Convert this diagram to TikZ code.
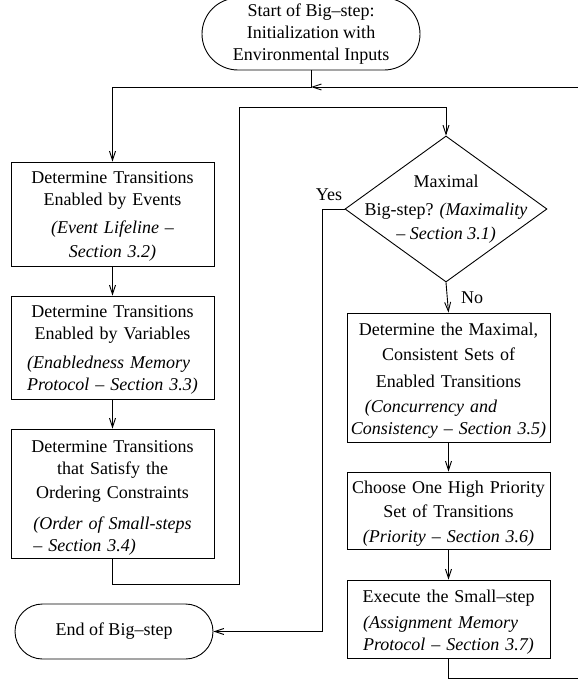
\documentclass[tikz,border=0pt]{standalone}
\usepackage{fontspec}
\setmainfont{Liberation Serif}
\usetikzlibrary{positioning,shapes.geometric,shapes.misc,arrows.meta}

\begin{document}
\begin{tikzpicture}[x=1pt,y=-1pt,line width=0.9pt,
  font=\fontsize{18}{22}\selectfont,
  box/.style={draw, rectangle, minimum width=203pt, text width=197pt, align=center, inner sep=3pt, text height=0pt},
  term/.style={draw, rounded rectangle, align=center, inner sep=0pt},
  decision/.style={draw, diamond, minimum width=202pt, minimum height=146pt, inner sep=0pt},
  arr/.style={-{Straight Barb[length=9pt,width=6pt]}}]
\useasboundingbox (0,0) rectangle (578,680);
% left column
\node [term, minimum width=218pt, minimum height=72pt] (start) at (311,34) {Start of Big--step:\\Initialization with\\Environmental Inputs};
\node [box, minimum height=104pt, text depth=62pt] (events) at (112.5,214) {Determine Transitions\\Enabled by Events\\[6pt]\textit{(Event Lifeline --}\\[2pt]\textit{Section 3.2)}};
\node [box, minimum height=103pt, text depth=61pt] (vars) at (112.5,347.5) {Determine Transitions\\Enabled by Variables\\[7pt]\begin{tabular}[t]{@{}l@{}}\itshape (Enabledness Memory\\\itshape Protocol -- Section 3.3)\end{tabular}};
\node [box, minimum height=129pt, text depth=83pt] (order) at (112.5,493.5) {Determine Transitions\\that Satisfy the\\[2pt]Ordering Constraints\\[9pt]\begin{tabular}[t]{@{}l@{}}\itshape (Order of Small-steps\\\itshape -- Section 3.4)\end{tabular}};
\node [term, minimum width=198pt, minimum height=55pt] (stop) at (114,631.5) {End of Big--step};
% right column
\node [decision] (maximal) at (446,209) {};
\node [align=center] (maxtext) at (maximal.center) {Maximal\\[6pt]Big-step? \textit{(Maximality}\\[2pt]\textit{-- Section 3.1)}};
\node [box, minimum height=129pt, text depth=85pt] (consistent) at (448.5,377.5) {Determine the Maximal,\\[3pt]Consistent Sets of\\[5pt]Enabled Transitions\\[3pt]\begin{tabular}[t]{@{}l@{}}\itshape\hspace*{14pt}(Concurrency and\\\itshape Consistency -- Section 3.5)\end{tabular}};
\node [box, minimum height=77pt, text depth=35pt] (priority) at (448.5,510.5) {Choose One High Priority\\[2pt]Set of Transitions\\[3pt]\textit{(Priority -- Section 3.6)}};
\node [box, minimum height=78pt, text depth=34pt] (execute) at (448.5,619) {Execute the Small--step\\[4pt]\begin{tabular}[t]{@{}l@{}}\itshape (Assignment Memory\\\itshape Protocol -- Section 3.7)\end{tabular}};
% connectors
\coordinate (join) at (311,87);
\draw [arr] (start.south) -- (join) -| (events.north);
\draw [arr] (events) -- (vars);
\draw [arr] (vars) -- (order);
\draw [arr] (order.south) -- ++(0,26) -| (239,107) -| (maximal.north);
\draw [arr] (maximal.south) -- node [right=10pt] (no) {No} (consistent.north);
\draw [arr] (maximal.west) -- (322,209) |- (stop.east);
\node [above left, inner sep=2pt, yshift=6pt] (yes) at (maximal.west) {Yes};
\draw [arr] (consistent) -- (priority);
\draw [arr] (priority) -- (execute);
\draw [arr] (execute.south) -- ++(0,20) -| (579,87) -- (join);
\end{tikzpicture}
\end{document}
